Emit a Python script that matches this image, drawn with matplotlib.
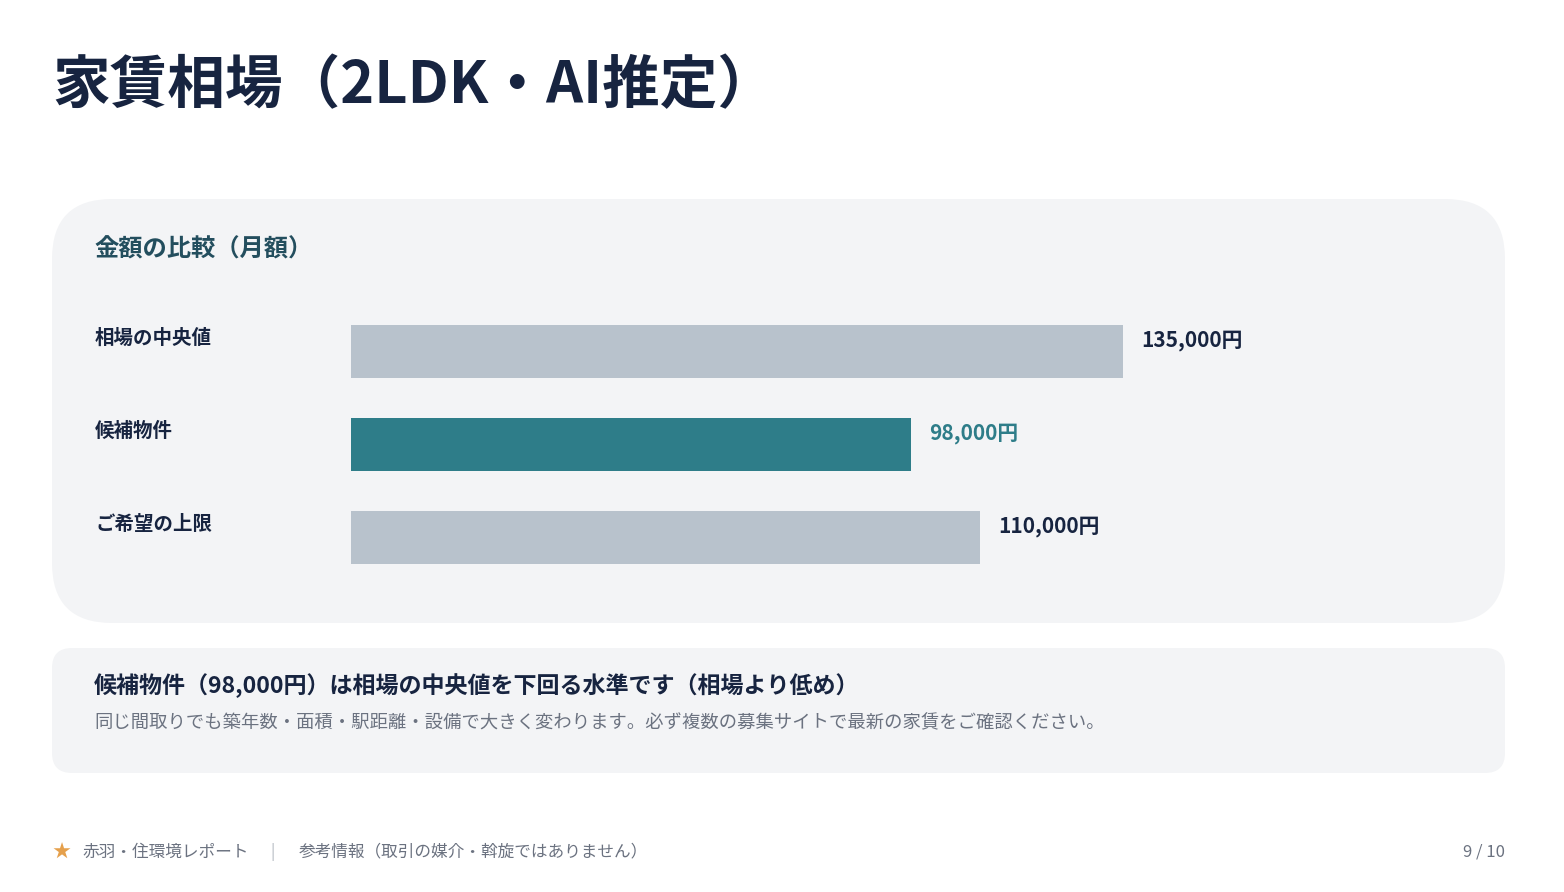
import matplotlib.pyplot as plt
import matplotlib.transforms as mtransforms
from matplotlib.patches import FancyBboxPatch

plt.rcParams['font.family'] = ['Noto Sans CJK JP', 'DejaVu Sans']

# データ
categories = ['相場の中央値', '候補物件', 'ご希望の上限']
rents = [135000, 98000, 110000]
highlight = [False, True, False]

title = '家賃相場（2LDK・AI推定）'
card_title = '金額の比較（月額）'
summary = '候補物件（98,000円）は相場の中央値を下回る水準です（相場より低め）'
note = '同じ間取りでも築年数・面積・駅距離・設備で大きく変わります。必ず複数の募集サイトで最新の家賃をご確認ください。'
footer_left = '赤羽・住環境レポート'
footer_mid = '参考情報（取引の媒介・斡旋ではありません）'
page = '9 / 10'

navy = '#172440'
teal = '#2e7d89'
bar_gray = '#b8c2cc'
card_bg = '#f3f4f6'
muted = '#6b7280'

W, H = 1564, 892
fig = plt.figure(figsize=(W / 100, H / 100), dpi=100)
fig.patch.set_facecolor('white')

# 背景用の軸（ピクセル座標）
bg = fig.add_axes([0, 0, 1, 1])
bg.set_xlim(0, W)
bg.set_ylim(H, 0)
bg.axis('off')

bg.text(52, 86, title, fontsize=41.5, fontweight='bold', color=navy, va='center', ha='left')

# カード
bg.add_patch(FancyBboxPatch((52 + 60, 199 + 60), 1453 - 120, 424 - 120,
                            boxstyle='round,pad=60', fc=card_bg, ec='none'))
bg.add_patch(FancyBboxPatch((52 + 20, 648 + 20), 1453 - 40, 125 - 40,
                            boxstyle='round,pad=20', fc=card_bg, ec='none'))

bg.text(94, 250, card_title, fontsize=17.5, fontweight='bold', color='#234e5e', va='center')
bg.text(94, 686, summary, fontsize=16.6, fontweight='bold', color=navy, va='center')
bg.text(94, 723, note, fontsize=13.2, color=muted, va='center')

# フッター
bg.text(52, 852, '★', fontsize=13, color='#e5a04c', va='center')
bg.text(82, 852, footer_left, fontsize=12, color=muted, va='center')
bg.text(270, 852, '|', fontsize=11, color='#b0b6bf', va='center')
bg.text(299, 852, footer_mid, fontsize=12, color=muted, va='center')
bg.text(1505, 852, page, fontsize=12, color=muted, va='center', ha='right')

# 棒グラフ
xmax = 150000
px_per_yen = 772 / 135000
ax_w = xmax * px_per_yen
bar_h = 0.57
ax = fig.add_axes([351 / W, 1 - 564 / H, ax_w / W, 239 / H])
ax.set_xlim(0, xmax)
ax.set_ylim(len(categories) - 1 + bar_h / 2, -bar_h / 2)
ax.axis('off')

colors = [teal if h else bar_gray for h in highlight]
ax.barh(range(len(categories)), rents, height=bar_h, color=colors)

trans = mtransforms.blended_transform_factory(ax.transAxes, ax.transData)
label_x = (95 - 351) / ax_w
for i, (cat, v, h) in enumerate(zip(categories, rents, highlight)):
    top = i - bar_h / 2
    ax.text(label_x, top + 0.14, cat, transform=trans, fontsize=14, fontweight='bold',
            color=navy, va='center', ha='left')
    ax.annotate(f'{v:,}円', xy=(v, top), xytext=(13, -11.5), textcoords='offset points',
                fontsize=15, fontweight='bold', color=teal if h else navy,
                va='center', ha='left')

fig.savefig('out.png', dpi=100, facecolor='white')
